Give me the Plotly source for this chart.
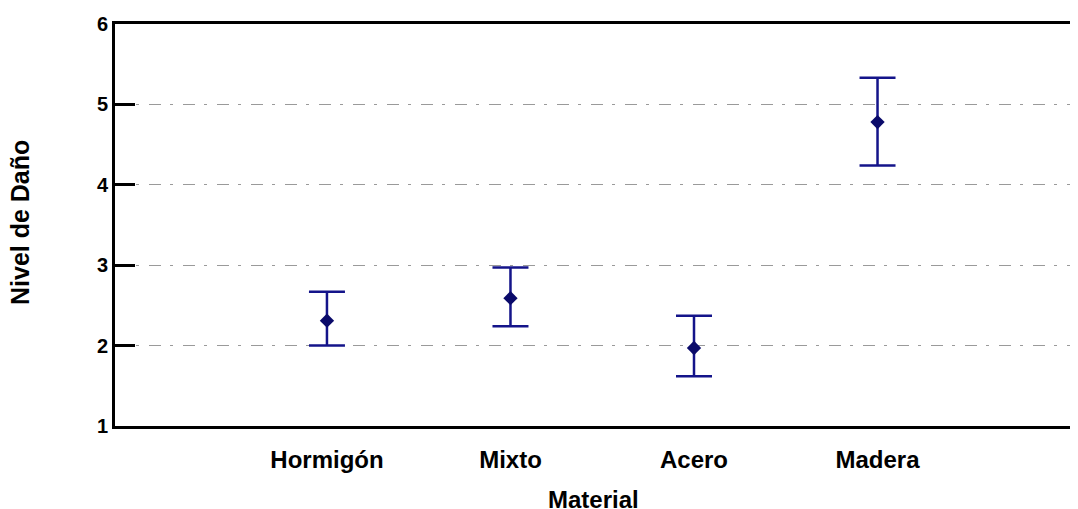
import plotly.graph_objects as go

categories = ["Hormigón", "Mixto", "Acero", "Madera"]
positions = [1, 2, 3, 4]
means = [2.31, 2.59, 1.97, 4.78]
upper = [2.67, 2.97, 2.37, 5.33]
lower = [2.00, 2.24, 1.62, 4.24]
y_ticks = [1, 2, 3, 4, 5, 6]

err_plus = [u - m for u, m in zip(upper, means)]
err_minus = [m - l for m, l in zip(means, lower)]

font = "Liberation Sans, Arial, sans-serif"
bar_color = "#14148a"

fig = go.Figure()
fig.add_trace(go.Scatter(
    x=positions, y=means, mode="markers",
    marker=dict(symbol="diamond", size=11, color="#0a0a6a"),
    error_y=dict(type="data", symmetric=False, array=err_plus, arrayminus=err_minus,
                 color=bar_color, thickness=2.5, width=18),
    showlegend=False,
))
# invisible trace for the right-side mirrored ticks
fig.add_trace(go.Scatter(x=[positions[0]], y=[means[0]], yaxis="y2", mode="markers",
                         marker=dict(opacity=0), showlegend=False, hoverinfo="skip"))

fig.update_layout(
    width=1078, height=509,
    margin=dict(l=107, r=0, t=16, b=91),
    plot_bgcolor="white", paper_bgcolor="white",
    font=dict(family=font, color="black"),
    xaxis=dict(
        range=[-0.155, 5.136], automargin=False,
        tickvals=positions, ticktext=["<b>%s</b>" % c for c in categories],
        tickfont=dict(size=24), ticks="", ticklabelstandoff=10,
        showgrid=False, zeroline=False,
        showline=True, linecolor="black", linewidth=3, mirror=True,
    ),
    yaxis=dict(
        range=[1, 6], automargin=False,
        tickvals=y_ticks, ticktext=["<b>%d</b>" % v for v in y_ticks],
        tickfont=dict(size=20), ticks="inside", ticklen=20, tickwidth=2.5, tickcolor="black",
        showline=True, linecolor="black", linewidth=3,
        showgrid=True, gridcolor="#9a9a9a", gridwidth=1, griddash="12px,9px,3px,10px",
        zeroline=False, layer="above traces",
    ),
    yaxis2=dict(
        overlaying="y", side="right", range=[1, 6], tickvals=y_ticks, automargin=False,
        showticklabels=False, ticks="inside", ticklen=14, tickwidth=2.5, tickcolor="black",
        showgrid=False, zeroline=False, showline=False,
    ),
    annotations=[
        dict(text="<b>Material</b>", xref="paper", yref="paper", x=0.493, y=-0.182,
             xanchor="center", yanchor="middle", showarrow=False, font=dict(size=24)),
        dict(text="<b>Nivel de Daño</b>", xref="paper", yref="paper", x=-0.0978, y=0.505,
             xanchor="center", yanchor="middle", textangle=-90, showarrow=False,
             font=dict(size=25)),
    ],
)

fig.write_html("out.html")
